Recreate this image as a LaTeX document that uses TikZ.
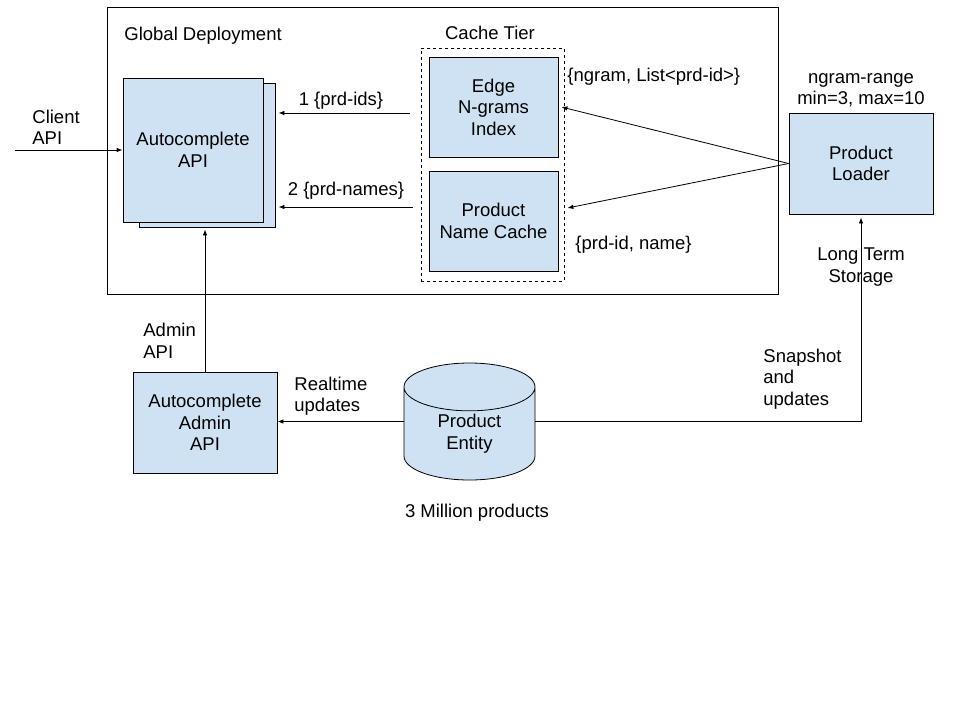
\documentclass[tikz,border=0pt]{standalone}
\usepackage{fontspec}
\setmainfont{Liberation Sans}
\usetikzlibrary{positioning,shapes.geometric,arrows.meta}
\definecolor{boxblue}{HTML}{CFE2F3}
\begin{document}
\begin{tikzpicture}[x=1pt,y=-1pt,font=\fontsize{18.5}{21.5}\selectfont,line width=0.8pt,every node/.style={align=center},box/.style={draw,fill=boxblue,inner sep=0pt},lbl/.style={inner sep=0pt},arr/.style={-{Latex[length=6pt,width=4.5pt]}}]
\useasboundingbox (0,0) rectangle (960,720);
\node[draw,minimum width=671,minimum height=287] (global) at (442.5,150.5) {};
\node[lbl,anchor=west] (globaltitle) at (124,36) {Global Deployment};
\node[draw,dashed,minimum width=143,minimum height=233] (cache) at (492.5,164.5) {};
\node[lbl] (cachetitle) at (490,33) {Cache Tier};
\node[box,minimum width=129,minimum height=100] (edge) at (493.5,107) {Edge\\N-grams\\Index};
\node[box,minimum width=129,minimum height=100] (namecache) at (493.5,221) {Product\\Name Cache};
\node[box,minimum width=136,minimum height=144] (apiback) at (207,155) {};
\node[box,minimum width=140,minimum height=144] (api) at (193,150) {Autocomplete\\API};
\node[box,minimum width=144,minimum height=101] (loader) at (861,163.5) {Product\\Loader};
\node[box,minimum width=144,minimum height=101] (admin) at (205,422.5) {Autocomplete\\Admin\\API};
\node[box,cylinder,shape border rotate=90,aspect=0.75,minimum width=131,minimum height=117,anchor=shape center] (entity) at (469.5,421.5) {Product\\Entity};
\coordinate (client) at (15,150);
\node[lbl,anchor=west,align=left] (clientlbl) at (32,127.5) {Client\\API};
\node[lbl] (idslbl) at (341,101) {1 \{prd-ids\}};
\node[lbl] (nameslbl) at (346,191) {2 \{prd-names\}};
\node[lbl,anchor=west] (ngramlbl) at (567,77) {\{ngram, List<prd-id>\}};
\node[lbl,anchor=west] (prdlbl) at (575,245) {\{prd-id, name\}};
\node[lbl] (rangelbl) at (861,90) {ngram-range\\min=3, max=10};
\node[lbl] (storagelbl) at (861,267) {Long Term\\Storage};
\node[lbl,anchor=west,align=left] (snaplbl) at (763,379) {Snapshot\\and\\updates};
\node[lbl,anchor=west,align=left] (adminlbl) at (143,341) {Admin\\API};
\node[lbl,anchor=west,align=left] (realtimelbl) at (294,396) {Realtime\\updates};
\node[lbl] (countlbl) at (477,513) {3 Million products};
\draw[arr] (client) -- (api.west);
\draw[arr] ([xshift=-11pt,yshift=-6pt]edge.west -| cache.west) -- ([xshift=3pt,yshift=-6pt]edge.west -| apiback.east);
\draw[arr] ([xshift=-8pt,yshift=14pt]namecache.west -| cache.west) -- ([xshift=3pt,yshift=14pt]namecache.west -| apiback.east);
\draw[arr] (loader.west) -- ([xshift=3pt]edge.east);
\draw[arr] (loader.west) -- ([xshift=9pt,yshift=13pt]namecache.east);
\draw[arr] (entity.west |- entity.shape center) -- (entity.shape center -| admin.east);
\draw[arr] (entity.east |- entity.shape center) -| ([yshift=-3pt]loader.south);
\draw[arr] (admin.north) -- ([yshift=-2pt]admin.north |- apiback.south);
\end{tikzpicture}
\end{document}
